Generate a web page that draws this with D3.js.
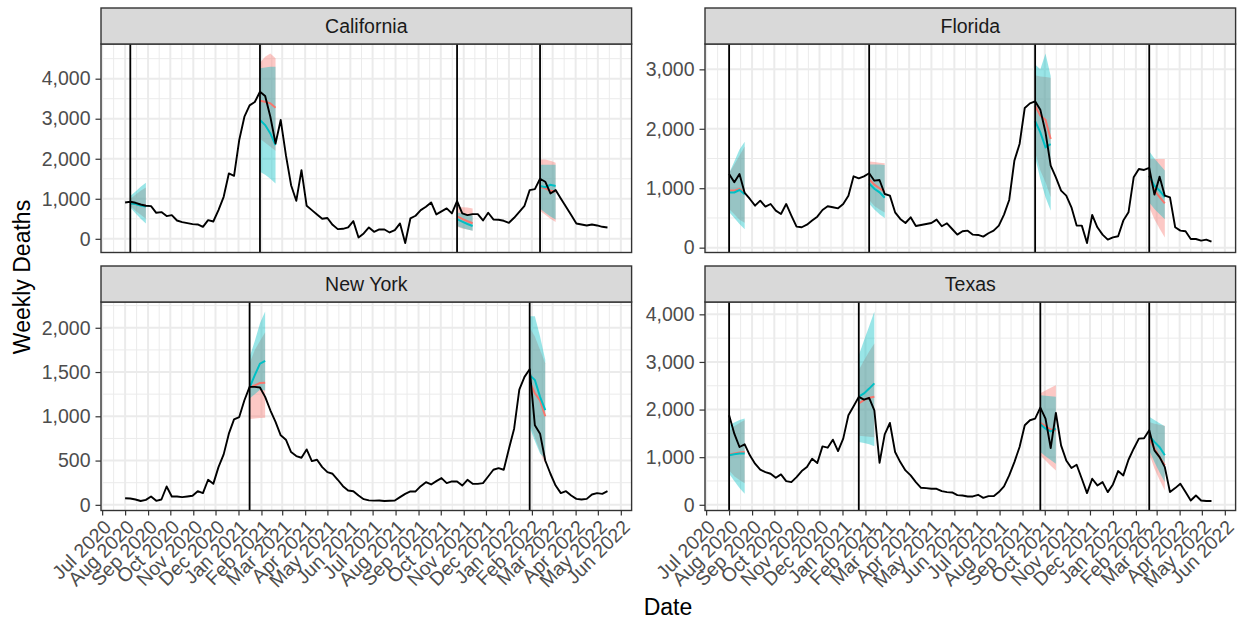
<!DOCTYPE html>
<html>
<head>
<meta charset="utf-8">
<script src="https://cdn.jsdelivr.net/npm/d3@7"></script>
<style>
  body { margin: 0; background: #ffffff; }
  svg text { font-family: "Liberation Sans", Arial, Helvetica, sans-serif; }
</style>
</head>
<body>
<svg id="chart" width="1238" height="625"></svg>
<script>
// ---- Data -------------------------------------------------------------
// Weekly reported deaths, one value per week starting on firstWeek.
const firstWeek = "2020-08-01";

const californiaDeaths = [
  908, 925, 900, 858, 825, 817, 650, 667, 567, 592,
  458, 417, 392, 367, 358, 300, 467, 433, 717, 1050,
  1633, 1575, 2467, 3050, 3333, 3417, 3675, 3567, 3050, 2383,
  2967, 2090, 1340, 950, 1717, 825, 717, 608, 500, 520,
  350, 242, 250, 284, 442, 34, 134, 284, 176, 234,
  234, 159, 217, 384, -105, 509, 576, 717, 800, 909,
  609, 684, 759, 634, 942, 634, 592, 617, 617, 459,
  651, 484, 476, 451, 401, 526, 676, 826, 1217, 1242,
  1500, 1426, 1134, 1217, 1009, 800, 592, 384, 359, 334,
  359, 334, 300, 284
];
const floridaDeaths = [
  1240, 1100, 1240, 920, 819, 707, 791, 690, 735, 623,
  567, 735, 539, 354, 343, 387, 455, 522, 634, 696,
  679, 662, 735, 875, 1200, 1167, 1200, 1251, 1127, 1139,
  903, 875, 595, 483, 415, 511, 365, 382, 399, 415,
  472, 360, 410, 314, 219, 275, 286, 219, 214, 186,
  242, 286, 371, 556, 802, 1464, 1744, 2350, 2428, 2462,
  2322, 1941, 1380, 1184, 959, 875, 679, 371, 371, 78,
  550, 343, 219, 135, 174, 191, 455, 595, 1184, 1324,
  1307, 1341, 892, 1195, 875, 847, 343, 286, 275, 146,
  146, 118, 135, 101
];
const newYorkDeaths = [
  75, 71, 60, 43, 56, 94, 45, 60, 207, 94,
  94, 87, 94, 102, 154, 132, 283, 237, 426, 570,
  804, 966, 992, 1181, 1332, 1332, 1325, 1219, 1068, 936,
  785, 736, 596, 551, 532, 626, 494, 509, 426, 369,
  351, 283, 211, 162, 154, 105, 64, 50, 48, 49,
  44, 46, 49, 87, 124, 151, 151, 211, 256, 230,
  268, 302, 245, 264, 264, 218, 283, 237, 237, 245,
  320, 396, 415, 396, 634, 860, 1302, 1445, 1532, 898,
  804, 501, 351, 218, 132, 154, 105, 67, 60, 67,
  117, 132, 124, 154
];
const texasDeaths = [
  1880, 1494, 1213, 1269, 1038, 862, 736, 687, 652, 567,
  638, 497, 476, 581, 708, 792, 968, 876, 1227, 1199,
  1368, 1129, 1389, 1880, 2069, 2266, 2210, 2245, 1985, 883,
  1480, 1718, 1108, 897, 722, 617, 476, 357, 350, 336,
  336, 287, 266, 259, 202, 195, 175, 175, 210, 146,
  181, 181, 266, 385, 617, 897, 1213, 1670, 1775, 1810,
  2041, 1810, 1192, 1929, 1248, 932, 771, 841, 547, 245,
  547, 406, 476, 266, 427, 708, 617, 946, 1178, 1389,
  1396, 1564, 1143, 1002, 792, 266, 350, 441, 266, 90,
  195, 90, 80, 79
];

// Forecast origin dates (one 4-week forecast per origin, drawn with a vertical line).
const californiaOrigins = ["2020-08-08", "2021-01-30", "2021-10-23", "2022-02-12"];
const floridaOrigins    = ["2020-08-01", "2021-02-06", "2021-09-18", "2022-02-19"];
const newYorkOrigins    = ["2021-01-16", "2022-01-29"];
const texasOrigins      = ["2020-08-01", "2021-01-23", "2021-09-25", "2022-02-19"];

// Model A forecasts (median, lower, upper), one row per origin.
const californiaA = [[890, 880, 850, 825], [3450, 3425, 3384, 3275], [560, 500, 440, 390], [1300, 1260, 1200, 1180]];
const californiaALo = [[820, 700, 600, 500], [2500, 2400, 2300, 2200], [300, 260, 230, 200], [700, 600, 500, 420]];
const californiaAHi = [[1000, 1100, 1200, 1280], [4400, 4550, 4630, 4510], [800, 790, 780, 760], [1980, 1980, 1950, 1900]];
// Model B forecasts.
const californiaB = [[880, 870, 830, 810], [2967, 2842, 2634, 2342], [490, 430, 370, 320], [1320, 1290, 1350, 1320]];
const californiaBLo = [[780, 640, 500, 383], [1675, 1600, 1500, 1384], [320, 270, 230, 200], [750, 650, 560, 480]];
const californiaBHi = [[1067, 1180, 1300, 1400], [4259, 4280, 4300, 4300], [660, 630, 610, 580], [1850, 1850, 1850, 1850]];

const floridaA = [[960, 960, 990, 920], [1150, 1060, 1000, 940], [2390, 2220, 2150, 1830], [1210, 960, 850, 745]];
const floridaALo = [[650, 560, 470, 420], [800, 700, 640, 590], [1600, 1300, 1100, 850], [680, 480, 320, 170]];
const floridaAHi = [[1250, 1400, 1550, 1700], [1450, 1440, 1430, 1420], [2900, 2880, 2870, 2860], [1490, 1490, 1490, 1490]];
const floridaB = [[930, 930, 970, 900], [1080, 990, 930, 840], [2130, 1940, 1690, 1740], [1210, 1040, 960, 850]];
const floridaBLo = [[600, 500, 400, 310], [740, 640, 560, 500], [1520, 1150, 850, 620], [760, 650, 560, 480]];
const floridaBHi = [[1250, 1450, 1650, 1780], [1400, 1400, 1400, 1390], [3080, 3000, 3267, 2890], [1620, 1500, 1400, 1300]];

const newYorkA = [[1325, 1350, 1375, 1380], [1390, 1260, 1180, 1000]];
const newYorkALo = [[970, 975, 980, 985], [930, 760, 600, 460]];
const newYorkAHi = [[1600, 1750, 1850, 1950], [2000, 1900, 1750, 1600]];
const newYorkB = [[1325, 1465, 1595, 1625], [1465, 1410, 1220, 1070]];
const newYorkBLo = [[1200, 1250, 1300, 1290], [880, 720, 580, 520]];
const newYorkBHi = [[1670, 1850, 2050, 2184], [2130, 2130, 1900, 1640]];

const texasA = [[1050, 1080, 1100, 1110], [2130, 2200, 2250, 2270], [1720, 1650, 1580, 1560], [1390, 1180, 1000, 830]];
const texasALo = [[720, 600, 520, 450], [1450, 1440, 1430, 1420], [1040, 930, 820, 720], [1070, 760, 520, 300]];
const texasAHi = [[1550, 1650, 1720, 1780], [2830, 3030, 3220, 3390], [2340, 2400, 2460, 2510], [1740, 1700, 1680, 1660]];
const texasB = [[1040, 1060, 1075, 1075], [2270, 2340, 2440, 2550], [1690, 1600, 1540, 1600], [1440, 1320, 1210, 1040]];
const texasBLo = [[650, 500, 350, 230], [1320, 1300, 1270, 1230], [1110, 1020, 940, 860], [1140, 900, 680, 480]];
const texasBHi = [[1670, 1730, 1780, 1810], [3140, 3450, 3750, 4060], [2300, 2290, 2280, 2270], [1850, 1780, 1710, 1650]];

// Axis breaks.
const californiaTicks = [0, 1000, 2000, 3000, 4000];
const floridaTicks = [0, 1000, 2000, 3000];
const newYorkTicks = [0, 500, 1000, 1500, 2000];
const texasTicks = [0, 1000, 2000, 3000, 4000];
const monthStart = "2020-07-01";
const monthEnd = "2022-06-01";

// ---- Layout -----------------------------------------------------------
const colX = [101, 705];
const rowY = [8, 266];
const panelW = 530.6;
const stripH = 36;
const panelH = 208.5;
const colorA = "#F8766D";
const colorB = "#00BFC4";
const ribbonAlpha = 0.4;
const gridColor = "#EBEBEB";
const textSize = "19.5px";
const titleSize = "23px";

const parse = d3.utcParse("%Y-%m-%d");
const t0 = parse(firstWeek);
const weekDate = i => d3.utcDay.offset(t0, 7 * i);

const panels = [
  { name: "California", truth: californiaDeaths, origins: californiaOrigins,
    a: californiaA, aLo: californiaALo, aHi: californiaAHi,
    b: californiaB, bLo: californiaBLo, bHi: californiaBHi, ticks: californiaTicks, col: 0, row: 0 },
  { name: "Florida", truth: floridaDeaths, origins: floridaOrigins,
    a: floridaA, aLo: floridaALo, aHi: floridaAHi,
    b: floridaB, bLo: floridaBLo, bHi: floridaBHi, ticks: floridaTicks, col: 1, row: 0 },
  { name: "New York", truth: newYorkDeaths, origins: newYorkOrigins,
    a: newYorkA, aLo: newYorkALo, aHi: newYorkAHi,
    b: newYorkB, bLo: newYorkBLo, bHi: newYorkBHi, ticks: newYorkTicks, col: 0, row: 1 },
  { name: "Texas", truth: texasDeaths, origins: texasOrigins,
    a: texasA, aLo: texasALo, aHi: texasAHi,
    b: texasB, bLo: texasBLo, bHi: texasBHi, ticks: texasTicks, col: 1, row: 1 }
];

// Shared time scale, padded by 5% on each side of the observed weeks.
const obsDates = californiaDeaths.map((_, i) => weekDate(i));
const [dMin, dMax] = d3.extent(obsDates);
const pad = (dMax - dMin) * 0.05;
const x = d3.scaleUtc()
  .domain([new Date(+dMin - pad), new Date(+dMax + pad)])
  .range([0, panelW]);

const months = d3.utcMonth.range(parse(monthStart), d3.utcDay.offset(parse(monthEnd), 1));
const monthMinor = [];
const monthsExt = [d3.utcMonth.offset(months[0], -1), ...months, d3.utcMonth.offset(months[months.length - 1], 1)];
for (let k = 0; k < monthsExt.length - 1; k++) {
  const m = new Date((+monthsExt[k] + +monthsExt[k + 1]) / 2);
  if (m >= x.domain()[0] && m <= x.domain()[1]) monthMinor.push(m);
}

const svg = d3.select("#chart");
const fmt = d3.format(",");

panels.forEach(p => {
  const px = colX[p.col];
  const py = rowY[p.row] + stripH;

  // forecast series for this panel
  const fc = [];
  p.origins.forEach((o, k) => {
    const od = parse(o);
    const pts = (arr) => arr[k].map((v, j) => ({ d: d3.utcDay.offset(od, 7 * j), v }));
    fc.push({
      a: pts(p.a), aLo: p.aLo[k], aHi: p.aHi[k],
      b: pts(p.b), bLo: p.bLo[k], bHi: p.bHi[k], od
    });
  });

  const allVals = [...p.truth];
  fc.forEach(f => allVals.push(...f.aLo, ...f.aHi, ...f.bLo, ...f.bHi));
  const [vMin, vMax] = d3.extent(allVals);
  const vPad = (vMax - vMin) * 0.05;
  const y = d3.scaleLinear().domain([vMin - vPad, vMax + vPad]).range([panelH, 0]);

  const g = svg.append("g").attr("transform", `translate(${px},${py})`);

  // grid
  const step = p.ticks[1] - p.ticks[0];
  const yMinor = d3.range(p.ticks[0] - step / 2, y.domain()[1], step)
    .filter(v => v >= y.domain()[0] && v <= y.domain()[1]);
  const grid = g.append("g");
  grid.selectAll(".hmin").data(yMinor).join("line")
    .attr("x1", 0).attr("x2", panelW).attr("y1", d => y(d)).attr("y2", d => y(d))
    .attr("stroke", gridColor).attr("stroke-width", 1);
  grid.selectAll(".vmin").data(monthMinor).join("line")
    .attr("y1", 0).attr("y2", panelH).attr("x1", d => x(d)).attr("x2", d => x(d))
    .attr("stroke", gridColor).attr("stroke-width", 1);
  grid.selectAll(".hmaj").data(p.ticks).join("line")
    .attr("x1", 0).attr("x2", panelW).attr("y1", d => y(d)).attr("y2", d => y(d))
    .attr("stroke", gridColor).attr("stroke-width", 2);
  grid.selectAll(".vmaj").data(months).join("line")
    .attr("y1", 0).attr("y2", panelH).attr("x1", d => x(d)).attr("x2", d => x(d))
    .attr("stroke", gridColor).attr("stroke-width", 2);

  const clipId = "clip-" + p.name.replace(/\s/g, "");
  g.append("clipPath").attr("id", clipId).append("rect")
    .attr("width", panelW).attr("height", panelH);
  const body = g.append("g").attr("clip-path", `url(#${clipId})`);

  const area = (lo, hi) => d3.area()
    .x(d => x(d))
    .y0((d, j) => y(lo[j])).y1((d, j) => y(hi[j]));

  // ribbons: model A first, model B on top
  fc.forEach(f => {
    body.append("path").datum(f.a.map(q => q.d)).attr("d", area(f.aLo, f.aHi))
      .attr("fill", colorA).attr("fill-opacity", ribbonAlpha);
  });
  fc.forEach(f => {
    body.append("path").datum(f.b.map(q => q.d)).attr("d", area(f.bLo, f.bHi))
      .attr("fill", colorB).attr("fill-opacity", ribbonAlpha);
  });

  const line = d3.line().x(q => x(q.d)).y(q => y(q.v));
  fc.forEach(f => {
    body.append("path").datum(f.a).attr("d", line)
      .attr("fill", "none").attr("stroke", colorA).attr("stroke-width", 2);
  });
  fc.forEach(f => {
    body.append("path").datum(f.b).attr("d", line)
      .attr("fill", "none").attr("stroke", colorB).attr("stroke-width", 2);
  });

  // observed deaths
  const obs = p.truth.map((v, i) => ({ d: weekDate(i), v }));
  body.append("path").datum(obs).attr("d", line)
    .attr("fill", "none").attr("stroke", "#000").attr("stroke-width", 1.9)
    .attr("stroke-linejoin", "round");

  // forecast origins
  body.selectAll(".vline").data(fc).join("line")
    .attr("x1", f => x(f.od)).attr("x2", f => x(f.od))
    .attr("y1", 0).attr("y2", panelH)
    .attr("stroke", "#000").attr("stroke-width", 1.8);

  // panel border
  g.append("rect").attr("width", panelW).attr("height", panelH)
    .attr("fill", "none").attr("stroke", "#333333").attr("stroke-width", 1.4);

  // strip
  const strip = svg.append("g").attr("transform", `translate(${px},${rowY[p.row]})`);
  strip.append("rect").attr("width", panelW).attr("height", stripH)
    .attr("fill", "#D9D9D9").attr("stroke", "#333333").attr("stroke-width", 1.4);
  strip.append("text").attr("x", panelW / 2).attr("y", stripH / 2)
    .attr("text-anchor", "middle").attr("dominant-baseline", "central")
    .attr("fill", "#1A1A1A").style("font-size", textSize).text(p.name);

  // y axis
  const ya = g.append("g").call(d3.axisLeft(y).tickValues(p.ticks).tickFormat(fmt).tickSize(5.5).tickPadding(5));
  ya.select(".domain").remove();
  ya.selectAll(".tick line").attr("stroke", "#333333").attr("stroke-width", 1.2);
  ya.selectAll(".tick text").attr("fill", "#4D4D4D").style("font-size", textSize);

  // x axis on the bottom row
  if (p.row === 1) {
    const xa = g.append("g").attr("transform", `translate(0,${panelH})`)
      .call(d3.axisBottom(x).tickValues(months).tickFormat(d3.utcFormat("%b %Y")).tickSize(5));
    xa.select(".domain").remove();
    xa.selectAll(".tick line").attr("stroke", "#333333").attr("stroke-width", 1.2);
    xa.selectAll(".tick text")
      .attr("fill", "#4D4D4D").style("font-size", textSize)
      .attr("x", 0).attr("y", 0).attr("dy", "0.71em")
      .attr("transform", "translate(0,8) rotate(-45)")
      .style("text-anchor", "end");
  }
});

// axis titles
svg.append("text").attr("transform", "translate(22,277) rotate(-90)")
  .attr("text-anchor", "middle").attr("dominant-baseline", "central")
  .attr("fill", "#000").style("font-size", titleSize).text("Weekly Deaths");
svg.append("text").attr("x", 668).attr("y", 607)
  .attr("text-anchor", "middle").attr("dominant-baseline", "central")
  .attr("fill", "#000").style("font-size", titleSize).text("Date");
</script>
</body>
</html>
